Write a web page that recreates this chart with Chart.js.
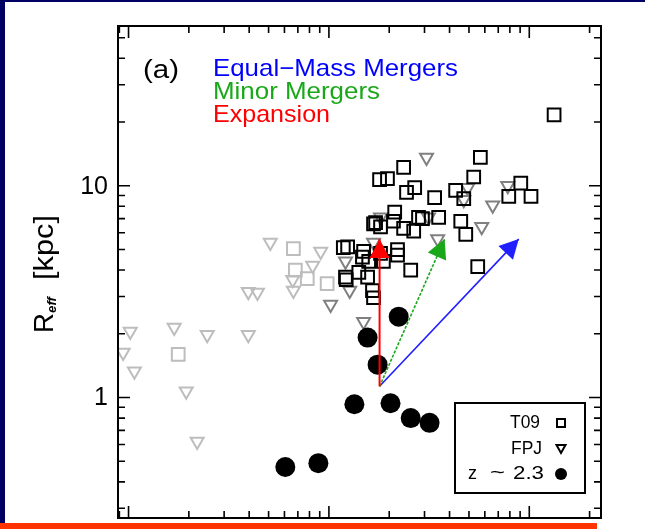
<!DOCTYPE html>
<html>
<head>
<meta charset="utf-8">
<script src="https://cdn.jsdelivr.net/npm/chart.js@4.4.1/dist/chart.umd.min.js"></script>
<style>
  html, body { margin: 0; padding: 0; background: #fff; }
  #wrap { position: relative; width: 645px; height: 529px; overflow: hidden; }
  #chart { position: absolute; left: 0; top: 0; }
  .bar { position: absolute; }
</style>
</head>
<body>
<div id="wrap">
  <canvas id="chart" width="645" height="529"></canvas>
  <div class="bar" style="left:0;top:0;width:645px;height:2px;background:#000064"></div>
  <div class="bar" style="left:0;top:0;width:5px;height:523px;background:#000064"></div>
  <div class="bar" style="left:0;top:523px;width:597px;height:6px;background:#ff3300"></div>
</div>
<script>
// stellar mass (units of 1e10 Msun) and effective radius (kpc)
const t09X = [133, 57, 23.6, 17.9, 19.6, 26.8, 24.4, 52.8, 42.9, 90.7, 79, 102, 33.7, 47.1, 21.3, 35.3, 28, 29.3, 17.1, 18.1, 23.6, 26.5, 45.5, 48.2, 21, 16.7, 12.4, 14.9, 14.7, 18.1, 22, 22, 15.8, 18.7, 14.1, 25.6, 12.2, 15.6, 16.5, 55.3, 11.8, 12.1, 16.7];
const t09Y = [21.6, 13.6, 12.2, 10.7, 10.8, 9.8, 9.3, 11.0, 9.5, 10.3, 8.9, 8.9, 8.8, 8.7, 7.5, 7.1, 7.1, 7.0, 6.7, 6.4, 6.3, 6.1, 6.8, 5.9, 6.8, 6.6, 5.15, 4.9, 4.6, 4.8, 5.0, 4.7, 4.4, 4.4, 3.9, 4.0, 3.6, 3.7, 3.2, 4.15, 5.1, 3.7, 2.96];

const fpjX = [10.2, 14.9, 30.7, 49.3, 47.1, 65.7, 78.1, 57.9, 34.9, 16.7, 12.1, 12.7, 18.1, 31.4];
const fpjY = [2.75, 2.28, 13.6, 9.8, 8.6, 8.1, 10.0, 6.4, 5.6, 5.4, 4.4, 3.2, 7.1, 7.1];

// low-mass objects shown in light grey
const lowSqX = [6.65, 6.8, 7.8, 9.8, 1.77];
const lowSqY = [5.05, 4.0, 3.64, 3.45, 1.6];
const lowTriX = [5.1, 9.1, 8.3, 6.6, 6.65, 3.96, 4.4, 1.02, 1.69, 2.47, 3.96, 0.94, 1.07, 1.94, 2.2];
const lowTriY = [5.4, 4.9, 4.2, 3.6, 3.2, 3.16, 3.13, 2.05, 2.14, 1.98, 1.98, 1.63, 1.33, 1.07, 0.62];

const hzX = [13.4, 20.3, 25.6, 31.8, 6.06, 8.86, 22.3, 15.6, 17.5];
const hzY = [0.93, 0.94, 0.80, 0.76, 0.47, 0.49, 2.41, 1.92, 1.43];

const arrowFrom = { x: 17.9, y: 1.13 };
const arrowTips = [
  { x: 17.9, y: 5.6, color: '#ff0000', dash: [], width: 2 },
  { x: 37.8, y: 5.6, color: '#1aa81a', dash: [3, 1.5], width: 1.6 },
  { x: 88.6, y: 5.6, color: '#2020ff', dash: [], width: 1.6 }
];

const xMajor = [1, 10, 100];
const xMinor = [0.9, 2, 3, 4, 5, 6, 7, 8, 9, 20, 30, 40, 50, 60, 70, 80, 90, 200];
const yMajor = [1, 10];
const yMinor = [0.3, 0.4, 0.5, 0.6, 0.7, 0.8, 0.9, 2, 3, 4, 5, 6, 7, 8, 9, 20, 30, 40, 50];

const pts = (xs, ys) => xs.map((x, i) => ({ x: x, y: ys[i] }));
const FONT = '"Liberation Sans", Arial, sans-serif';

function fitText(ctx, s, x, y, w) {
  const m = ctx.measureText(s).width;
  ctx.save();
  ctx.translate(x, y);
  ctx.scale(w / m, 1);
  ctx.fillText(s, 0, 0);
  ctx.restore();
}

const datasets = [];
arrowTips.forEach(t => {
  datasets.push({
    data: [arrowFrom, { x: t.x, y: t.y }],
    showLine: true, pointRadius: 0, borderColor: t.color, borderWidth: t.width,
    borderDash: t.dash, arrow: true
  });
});
datasets.push({
  label: 'z ~ 2.3', data: pts(hzX, hzY), pointStyle: 'circle', pointRadius: 10,
  backgroundColor: '#000', borderWidth: 0
});
datasets.push({
  label: 'T09', data: pts(t09X, t09Y), pointStyle: 'rect', pointRadius: 9,
  borderColor: '#000', borderWidth: 2, backgroundColor: 'rgba(0,0,0,0)'
});
datasets.push({
  label: 'FPJ', data: pts(fpjX, fpjY), pointStyle: 'triangle', rotation: 180, pointRadius: 7.5,
  borderColor: '#808080', borderWidth: 2, backgroundColor: 'rgba(0,0,0,0)'
});
datasets.push({
  data: pts(lowSqX, lowSqY), pointStyle: 'rect', pointRadius: 9,
  borderColor: '#bdbdbd', borderWidth: 2, backgroundColor: 'rgba(0,0,0,0)'
});
datasets.push({
  data: pts(lowTriX, lowTriY), pointStyle: 'triangle', rotation: 180, pointRadius: 7.5,
  borderColor: '#bdbdbd', borderWidth: 2, backgroundColor: 'rgba(0,0,0,0)'
});

const decor = {
  id: 'decor',
  afterDatasetsDraw(chart) {
    const { ctx, chartArea: a, scales: { x, y } } = chart;
    ctx.save();

    // arrow heads
    chart.data.datasets.forEach((ds, i) => {
      if (!ds.arrow) return;
      const m = chart.getDatasetMeta(i).data;
      const p0 = m[0], p1 = m[1];
      const ang = Math.atan2(p1.y - p0.y, p1.x - p0.x);
      const len = 19, hw = 10;
      ctx.fillStyle = ds.borderColor;
      ctx.beginPath();
      ctx.moveTo(p1.x, p1.y);
      ctx.lineTo(p1.x - len * Math.cos(ang) + hw * Math.sin(ang), p1.y - len * Math.sin(ang) - hw * Math.cos(ang));
      ctx.lineTo(p1.x - len * Math.cos(ang) - hw * Math.sin(ang), p1.y - len * Math.sin(ang) + hw * Math.cos(ang));
      ctx.closePath();
      ctx.fill();
    });

    // frame and inward ticks
    ctx.strokeStyle = '#000';
    ctx.lineWidth = 2;
    ctx.strokeRect(a.left, a.top, a.right - a.left, a.bottom - a.top);
    ctx.lineWidth = 1.6;
    const xt = (v, len) => {
      const px = x.getPixelForValue(v);
      ctx.beginPath();
      ctx.moveTo(px, a.top); ctx.lineTo(px, a.top + len);
      ctx.moveTo(px, a.bottom); ctx.lineTo(px, a.bottom - len);
      ctx.stroke();
    };
    const yt = (v, len) => {
      const py = y.getPixelForValue(v);
      ctx.beginPath();
      ctx.moveTo(a.left, py); ctx.lineTo(a.left + len, py);
      ctx.moveTo(a.right, py); ctx.lineTo(a.right - len, py);
      ctx.stroke();
    };
    xMajor.forEach(v => xt(v, 12));
    xMinor.forEach(v => xt(v, 7));
    yMajor.forEach(v => yt(v, 12));
    yMinor.forEach(v => yt(v, 7));

    // y tick labels
    ctx.fillStyle = '#000';
    ctx.font = '25px ' + FONT;
    ctx.textAlign = 'right';
    ctx.textBaseline = 'middle';
    yMajor.forEach(v => ctx.fillText(String(v), a.left - 10, y.getPixelForValue(v) + 1));

    // y title, rotated
    ctx.save();
    ctx.translate(53, 333);
    ctx.rotate(-Math.PI / 2);
    ctx.textAlign = 'left';
    ctx.textBaseline = 'alphabetic';
    ctx.font = '27px ' + FONT;
    fitText(ctx, 'R', 0, 0, 20);
    ctx.font = 'italic bold 12px ' + FONT;
    fitText(ctx, 'eff', 20, 3, 16);
    ctx.font = '27px ' + FONT;
    fitText(ctx, '[kpc]', 53, 0, 65);
    ctx.restore();

    // panel label and scenario key
    ctx.textAlign = 'left';
    ctx.textBaseline = 'alphabetic';
    ctx.font = '25px ' + FONT;
    ctx.fillStyle = '#000';
    fitText(ctx, '(a)', a.left + 25, a.top + 52, 36);
    ctx.font = '24px ' + FONT;
    ctx.fillStyle = '#0000ff';
    fitText(ctx, 'Equal\u2212Mass Mergers', a.left + 95, a.top + 50, 245);
    ctx.fillStyle = '#1aa81a';
    fitText(ctx, 'Minor Mergers', a.left + 95, a.top + 73, 167);
    ctx.fillStyle = '#ff0000';
    fitText(ctx, 'Expansion', a.left + 95, a.top + 96, 117);

    // legend box
    const bx0 = a.right - 146, by0 = a.bottom - 115, bx1 = a.right - 16, by1 = a.bottom - 25;
    ctx.strokeStyle = '#000';
    ctx.lineWidth = 2;
    ctx.strokeRect(bx0, by0, bx1 - bx0, by1 - by0);
    ctx.font = '18px ' + FONT;
    ctx.fillStyle = '#000';
    ctx.textBaseline = 'middle';
    const mx = bx1 - 24;
    fitText(ctx, 'T09', bx0 + 55, by0 + 20, 30);
    fitText(ctx, 'FPJ', bx0 + 56, by0 + 46, 31);
    // "z ~ 2.3" is set with wide gaps in the original
    fitText(ctx, 'z', bx0 + 13, by0 + 71, 9);
    fitText(ctx, '~', bx0 + 35, by0 + 70, 15);
    fitText(ctx, '2.3', bx0 + 58, by0 + 71, 31);
    ctx.lineWidth = 2;
    ctx.strokeRect(mx - 4, by0 + 16, 8, 8);
    ctx.beginPath();
    ctx.moveTo(mx - 4.5, by0 + 42); ctx.lineTo(mx + 4.5, by0 + 42); ctx.lineTo(mx, by0 + 50); ctx.closePath();
    ctx.stroke();
    ctx.beginPath();
    ctx.arc(mx, by0 + 71, 6, 0, Math.PI * 2);
    ctx.fill();

    ctx.restore();
  }
};

new Chart(document.getElementById('chart'), {
  type: 'scatter',
  data: { datasets: datasets },
  options: {
    responsive: false,
    animation: false,
    layout: { padding: { left: 118, top: 26, right: 44, bottom: 10 } },
    plugins: { legend: { display: false }, tooltip: { enabled: false } },
    scales: {
      x: { type: 'logarithmic', min: 0.886, max: 228, display: false },
      y: { type: 'logarithmic', min: 0.27, max: 56.8, display: false }
    }
  },
  plugins: [decor]
});
</script>
</body>
</html>
